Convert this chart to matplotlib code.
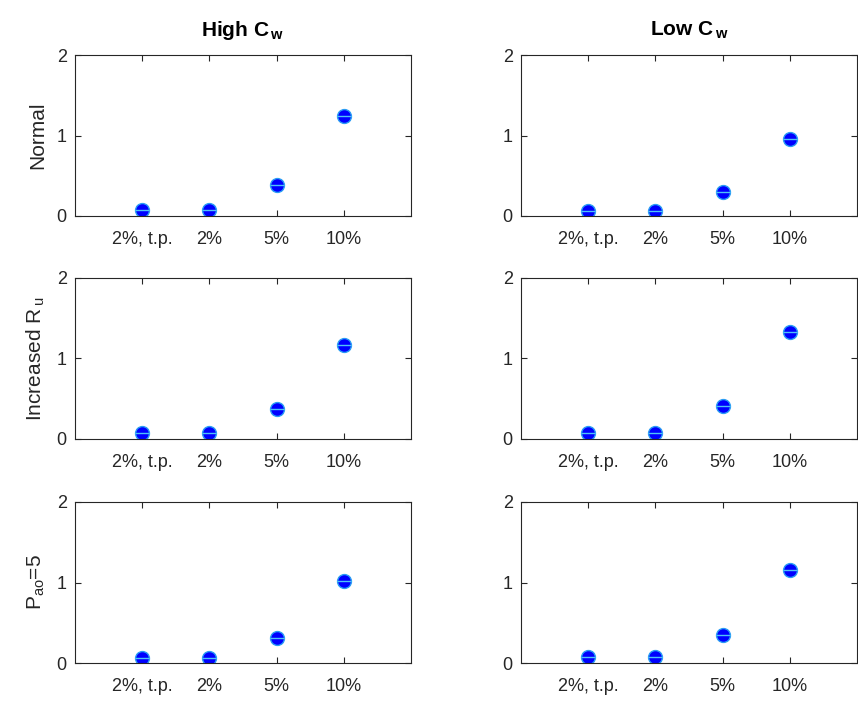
import matplotlib
matplotlib.use("Agg")
import matplotlib.pyplot as plt

# ── Data ──────────────────────────────────────────────────────────────────────
categories = ["2%, t.p.", "2%", "5%", "10%"]
col_titles = [r"High C$_{\,\mathregular{w}}$", r"Low C$_{\,\mathregular{w}}$"]
row_labels = ["Normal", r"Increased R$_{\,\mathregular{u}}$", r"P$_\mathregular{ao}$=5"]

normal_high    = [0.08, 0.08, 0.38, 1.24]
normal_low     = [0.06, 0.06, 0.30, 0.96]
increased_high = [0.08, 0.08, 0.37, 1.17]
increased_low  = [0.08, 0.08, 0.41, 1.33]
pao_high       = [0.06, 0.06, 0.31, 1.02]
pao_low        = [0.07, 0.07, 0.35, 1.15]

values = [[normal_high, normal_low],
          [increased_high, increased_low],
          [pao_high, pao_low]]

plt.rcParams["font.family"] = ["Liberation Sans", "DejaVu Sans"]
plt.rcParams["mathtext.fontset"] = "custom"
plt.rcParams["mathtext.rm"] = "Liberation Sans"
plt.rcParams["mathtext.bf"] = "Liberation Sans:bold"

fig = plt.figure(figsize=(8.58, 7.13), dpi=100)
W, H = 858, 713

lefts = [75, 521]
tops = [55, 278, 502]
width, height = 336, 161

x = list(range(1, len(categories) + 1))

for r in range(3):
    for c in range(2):
        ax = fig.add_axes([lefts[c] / W, 1 - (tops[r] + height) / H, width / W, height / H])
        ax.plot(x, values[r][c], linestyle="none", marker="o", markersize=10,
                markerfacecolor="#0000ff", markeredgecolor="#2a9df4", markeredgewidth=1.0)
        ax.plot(x, values[r][c], linestyle="none", marker="_", markersize=10,
                markeredgecolor="#4fc3f7", markeredgewidth=1.0)
        ax.set_xlim(0, 5)
        ax.set_ylim(0, 2)
        ax.set_xticks(x)
        ax.set_xticklabels(categories)
        ax.set_yticks([0, 1, 2])
        ax.tick_params(direction="in", top=True, right=True, length=4, width=0.8,
                       labelsize=13, colors="#262626")
        ax.tick_params(axis="x", pad=11)
        ax.tick_params(axis="y", pad=6)
        for s in ax.spines.values():
            s.set_color("#262626")
            s.set_linewidth(0.8)
        if c == 0:
            ax.set_ylabel(row_labels[r], fontsize=15, color="#262626", labelpad=7)
        if r == 0:
            ax.set_title(col_titles[c], fontsize=15, fontweight="bold", pad=14)

plt.savefig("out.png", dpi=100)
plt.close()
